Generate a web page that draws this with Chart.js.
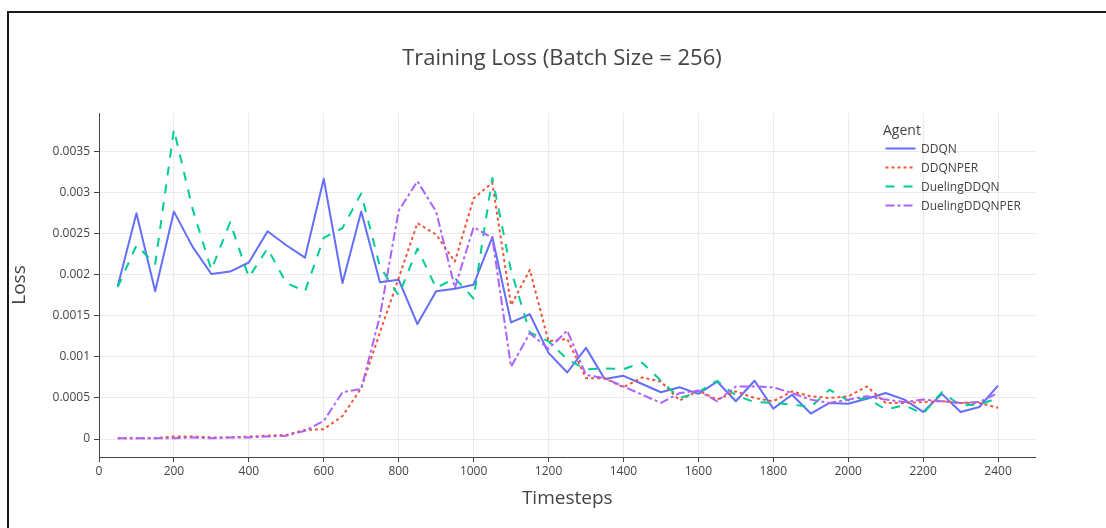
<!DOCTYPE html>
<html>
<head>
<meta charset="utf-8">
<title>Training Loss</title>
<script src="https://cdn.jsdelivr.net/npm/chart.js@4.4.1/dist/chart.umd.min.js"></script>
<style>
  html, body { margin: 0; padding: 0; background: #fff; }
  body { width: 1106px; height: 528px; position: relative; overflow: hidden; font-family: "Open Sans", sans-serif; }
  #frame { position: absolute; left: 7px; top: 11px; width: 1300px; height: 700px; border-left: 2px solid #1a1a1a; border-top: 2px solid #1a1a1a; }
  #chart { position: absolute; left: 0; top: 0; }
  #title { position: absolute; left: 0; top: 42px; width: 1124px; text-align: center; font-size: 22px; line-height: 28px; color: #444; white-space: nowrap; }
  #legend { position: absolute; left: 883px; top: 120px; color: #444; font-size: 12px; }
  #legend .head { font-size: 14px; line-height: 19px; height: 19px; }
  #legend .row { height: 19px; line-height: 19px; display: flex; align-items: center; white-space: nowrap; }
  #legend svg { width: 38px; height: 19px; flex: none; }
</style>
</head>
<body>
<div id="frame"></div>
<canvas id="chart" width="1106" height="528"></canvas>
<div id="title">Training Loss (Batch Size = 256)</div>
<div id="legend"></div>
<script>
// Training timesteps at which loss was logged
const timesteps = [50, 100, 150, 200, 250, 300, 350, 400, 450, 500, 550, 600, 650, 700, 750, 800,
  850, 900, 950, 1000, 1050, 1100, 1150, 1200, 1250, 1300, 1350, 1400, 1450, 1500, 1550, 1600,
  1650, 1700, 1750, 1800, 1850, 1900, 1950, 2000, 2050, 2100, 2150, 2200, 2250, 2300, 2350, 2400];

// Loss per agent
const lossDDQN = [0.00186, 0.00275, 0.00180, 0.00277, 0.00234, 0.00201, 0.00204, 0.00215, 0.00253, 0.00236,
  0.00221, 0.00317, 0.00190, 0.00277, 0.00191, 0.00194, 0.00140, 0.00180, 0.00183, 0.00188,
  0.00246, 0.00142, 0.00152, 0.00105, 0.00081, 0.00111, 0.00073, 0.00077, 0.00067, 0.00057,
  0.00063, 0.00055, 0.00070, 0.00046, 0.00071, 0.00037, 0.00054, 0.00031, 0.00044, 0.00043,
  0.00049, 0.00056, 0.00048, 0.00033, 0.00055, 0.00033, 0.00039, 0.00065];

const lossDDQNPER = [0.00001, 0.00001, 0.00001, 0.00003, 0.00003, 0.00002, 0.00002, 0.00003, 0.00004, 0.00005,
  0.00011, 0.00012, 0.00028, 0.00062, 0.00130, 0.00196, 0.00263, 0.00249, 0.00216, 0.00293,
  0.00312, 0.00163, 0.00206, 0.00119, 0.00122, 0.00074, 0.00074, 0.00063, 0.00075, 0.00070,
  0.00047, 0.00059, 0.00048, 0.00058, 0.00050, 0.00046, 0.00058, 0.00052, 0.00050, 0.00052,
  0.00064, 0.00044, 0.00044, 0.00045, 0.00046, 0.00044, 0.00044, 0.00038];

const lossDuelingDDQN = [0.00185, 0.00236, 0.00213, 0.00377, 0.00280, 0.00206, 0.00264, 0.00197, 0.00232, 0.00190,
  0.00180, 0.00245, 0.00257, 0.00299, 0.00210, 0.00175, 0.00232, 0.00184, 0.00196, 0.00171,
  0.00318, 0.00205, 0.00130, 0.00119, 0.00097, 0.00085, 0.00086, 0.00085, 0.00093, 0.00071,
  0.00050, 0.00057, 0.00071, 0.00053, 0.00045, 0.00044, 0.00042, 0.00039, 0.00060, 0.00047,
  0.00050, 0.00036, 0.00041, 0.00031, 0.00057, 0.00041, 0.00042, 0.00050];

const lossDuelingDDQNPER = [0.00001, 0.00001, 0.00001, 0.00001, 0.00002, 0.00001, 0.00002, 0.00002, 0.00003, 0.00004,
  0.00010, 0.00022, 0.00057, 0.00061, 0.00150, 0.00278, 0.00314, 0.00277, 0.00184, 0.00258,
  0.00245, 0.00088, 0.00129, 0.00110, 0.00132, 0.00078, 0.00074, 0.00064, 0.00054, 0.00044,
  0.00056, 0.00059, 0.00046, 0.00064, 0.00064, 0.00063, 0.00056, 0.00048, 0.00044, 0.00048,
  0.00052, 0.00048, 0.00045, 0.00048, 0.00046, 0.00044, 0.00045, 0.00056];

// Axis ticks
const xTicks = [0, 200, 400, 600, 800, 1000, 1200, 1400, 1600, 1800, 2000, 2200, 2400];
const xTickLabels = ['0', '200', '400', '600', '800', '1000', '1200', '1400', '1600', '1800', '2000', '2200', '2400'];
const yTicks = [0, 0.0005, 0.001, 0.0015, 0.002, 0.0025, 0.003, 0.0035];
const yTickLabels = ['0', '0.0005', '0.001', '0.0015', '0.002', '0.0025', '0.003', '0.0035'];

const agents = ['DDQN', 'DDQNPER', 'DuelingDDQN', 'DuelingDDQNPER'];
const agentLoss = [lossDDQN, lossDDQNPER, lossDuelingDDQN, lossDuelingDDQNPER];
const agentColors = ['#636efa', '#EF553B', '#00cc96', '#ab63fa'];
const agentDashes = [[], [3, 3], [9, 9], [9, 3, 3, 3]];

const textColor = '#444';
const gridColor = '#ebebeb';
const font = 'Open Sans';

const datasets = agents.map((name, i) => ({
  label: name,
  data: timesteps.map((t, k) => ({ x: t, y: agentLoss[i][k] })),
  borderColor: agentColors[i],
  backgroundColor: agentColors[i],
  borderWidth: 2,
  borderDash: agentDashes[i],
  borderJoinStyle: 'round',
  pointRadius: 0,
  pointHoverRadius: 0,
  tension: 0,
  fill: false,
  order: agents.length - i
}));

new Chart(document.getElementById('chart'), {
  type: 'line',
  data: { datasets },
  options: {
    responsive: false,
    animation: false,
    devicePixelRatio: 1,
    layout: { padding: { left: 8, top: 113, right: 70.5, bottom: 0 } },
    plugins: {
      legend: { display: false },
      title: { display: false },
      tooltip: { enabled: false }
    },
    scales: {
      x: {
        type: 'linear',
        min: 0,
        max: 2500,
        afterFit: (s) => { s.height = 71; },
        afterBuildTicks: (s) => { s.ticks = xTicks.map(v => ({ value: v })); },
        grid: { color: gridColor, lineWidth: 1, drawTicks: true, tickLength: 5, tickColor: textColor },
        border: { display: true, color: textColor, width: 1 },
        ticks: {
          color: textColor,
          font: { family: font, size: 12 },
          padding: 2,
          maxRotation: 0,
          autoSkip: false,
          callback: (v, i) => xTickLabels[i]
        },
        title: {
          display: true,
          text: 'Timesteps',
          color: textColor,
          font: { family: font, size: 19 },
          padding: { top: 0, bottom: 18.5 }
        }
      },
      y: {
        type: 'linear',
        min: -0.000219,
        max: 0.003971,
        afterFit: (s) => { s.width = 91; },
        afterBuildTicks: (s) => { s.ticks = yTicks.map(v => ({ value: v })); },
        grid: { color: gridColor, lineWidth: 1, drawTicks: true, tickLength: 5, tickColor: textColor },
        border: { display: true, color: textColor, width: 1 },
        ticks: {
          color: textColor,
          font: { family: font, size: 12 },
          padding: 4,
          autoSkip: false,
          callback: (v, i) => yTickLabels[i]
        },
        title: {
          display: true,
          text: 'Loss',
          color: textColor,
          font: { family: font, size: 19 },
          padding: { top: 0.5, bottom: 0 }
        }
      }
    }
  }
});

// Legend built from the same agent definitions
const legend = document.getElementById('legend');
const head = document.createElement('div');
head.className = 'head';
head.textContent = 'Agent';
legend.appendChild(head);
agents.forEach((name, i) => {
  const row = document.createElement('div');
  row.className = 'row';
  const dash = agentDashes[i].length ? ` stroke-dasharray="${agentDashes[i].join(',')}"` : '';
  row.innerHTML = `<svg viewBox="0 0 38 19"><line x1="2.5" y1="9.5" x2="32.5" y2="9.5" stroke="${agentColors[i]}" stroke-width="2"${dash}/></svg><span></span>`;
  row.querySelector('span').textContent = name;
  legend.appendChild(row);
});
</script>
</body>
</html>
